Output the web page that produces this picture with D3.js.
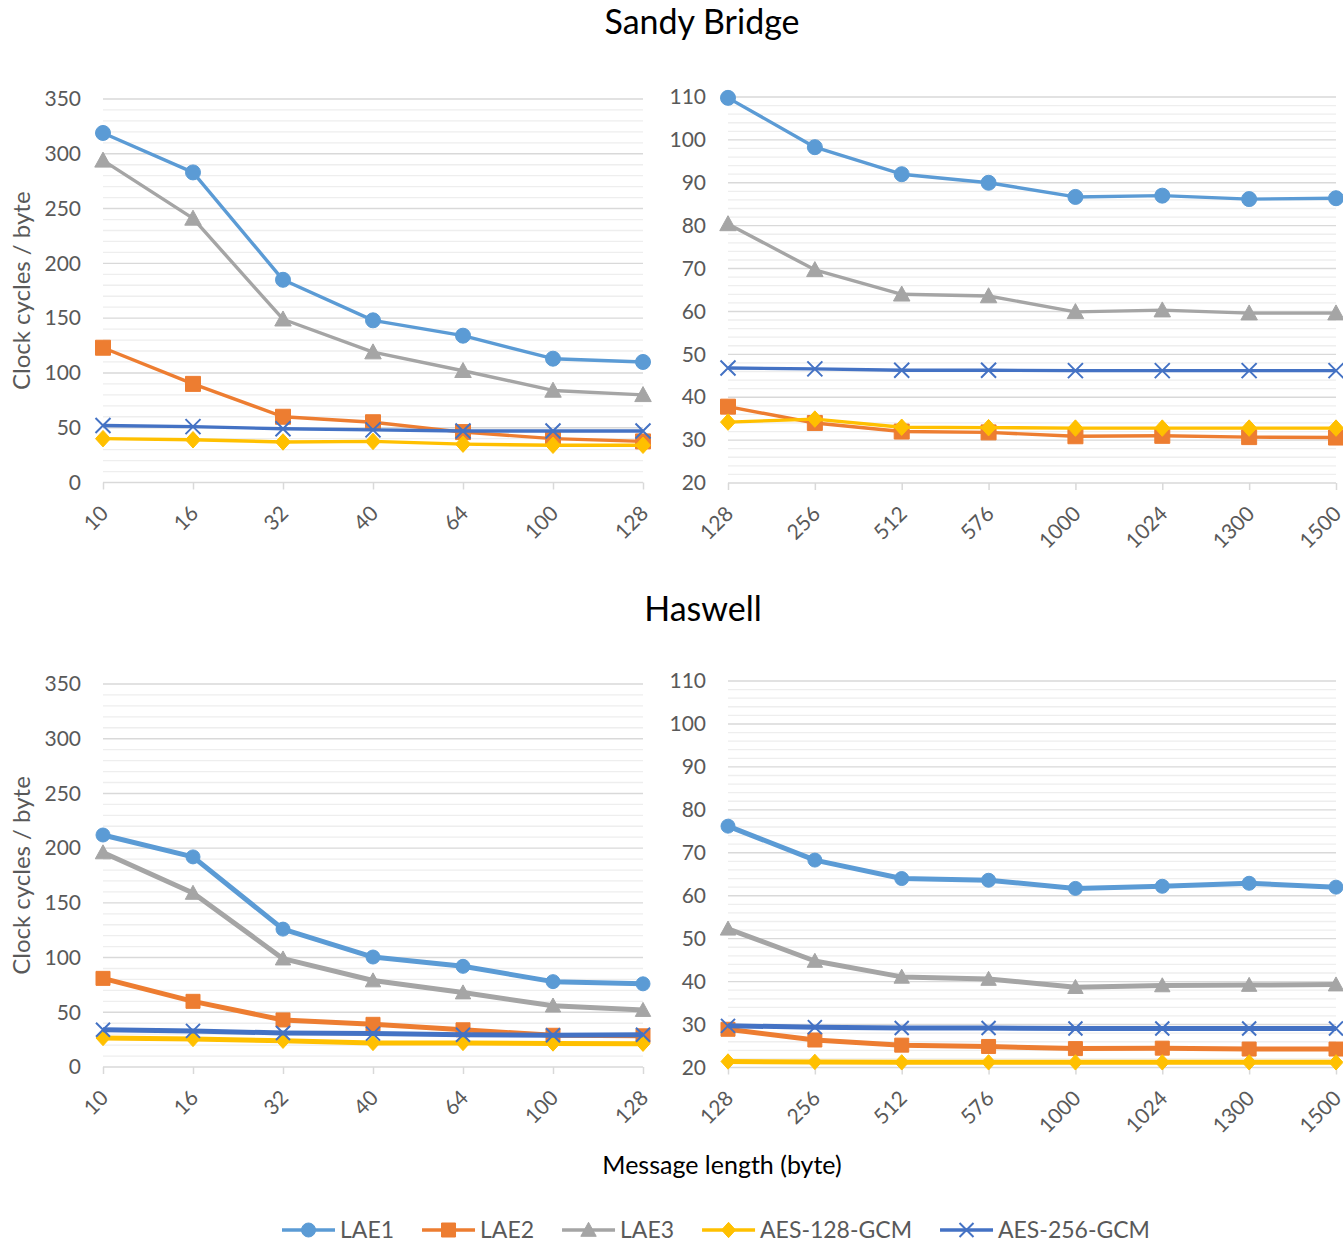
<!DOCTYPE html>
<html><head><meta charset="utf-8">
<script src="https://cdn.jsdelivr.net/npm/d3@7"></script>
<style>
html,body{margin:0;padding:0;background:#fff;}
text{font-family:Lato,"Noto Sans",sans-serif;}
</style></head>
<body>
<svg id="chart" width="1343" height="1241"></svg>
<script>
// ---------- data ----------
const seriesNames = ["LAE1","LAE2","LAE3","AES-128-GCM","AES-256-GCM"];
const seriesColors = ["#5B9BD5","#ED7D31","#A5A5A5","#FFC000","#4472C4"];
const seriesMarkers = ["circle","square","triangle","diamond","x"];

const smallLengths = ["10","16","32","40","64","100","128"];
const largeLengths = ["128","256","512","576","1000","1024","1300","1500"];

const smallTicks = [0,50,100,150,200,250,300,350];
const largeTicks = [20,30,40,50,60,70,80,90,100,110];

// Sandy Bridge, short messages
const sbSmallLAE1 = [319,283,185,148,134,113,110];
const sbSmallLAE2 = [123,90,60,55,46,40,37.5];
const sbSmallLAE3 = [294,241,149,119,102,84,80];
const sbSmallAES128 = [40,39,37,37.5,35,34,34];
const sbSmallAES256 = [52,51,49,48,47,47,47];

// Sandy Bridge, long messages
const sbLargeLAE1 = [109.8,98.3,92,90,86.7,87,86.2,86.4];
const sbLargeLAE2 = [37.8,34,32,31.8,30.9,31,30.7,30.6];
const sbLargeLAE3 = [80.4,69.7,64,63.6,59.9,60.3,59.6,59.6];
const sbLargeAES128 = [34.2,34.9,33,32.9,32.8,32.8,32.8,32.8];
const sbLargeAES256 = [46.8,46.6,46.3,46.3,46.2,46.2,46.2,46.2];

// Haswell, short messages
const hwSmallLAE1 = [212,192,126,100.5,92,78,76];
const hwSmallLAE2 = [81,60,43,39,34,29,28.5];
const hwSmallLAE3 = [196,159,99,79,68,56,52];
const hwSmallAES128 = [26.5,25.6,24,22,22,21.5,21.3];
const hwSmallAES256 = [34,33,31,30.5,29.5,29,29.5];

// Haswell, long messages
const hwLargeLAE1 = [76.2,68.3,64,63.6,61.7,62.2,62.9,62];
const hwLargeLAE2 = [28.9,26.4,25.2,24.9,24.4,24.5,24.3,24.3];
const hwLargeLAE3 = [52.3,44.8,41.1,40.6,38.7,39.1,39.2,39.3];
const hwLargeAES128 = [21.4,21.3,21.2,21.2,21.2,21.2,21.2,21.2];
const hwLargeAES256 = [29.7,29.4,29.2,29.2,29.1,29.1,29.1,29.1];

// ---------- drawing ----------
const svg = d3.select("#chart");
const TICK_COLOR = "#595959";

const panels = [
  {cats: smallLengths, vals: [sbSmallLAE1,sbSmallLAE2,sbSmallLAE3,sbSmallAES128,sbSmallAES256],
   x0:103, x1:643, yTop:99, yBot:482.5, dom:[0,350], ticks:smallTicks, minor:10, lw:3.4, ms:15, yTitle:true},
  {cats: largeLengths, vals: [sbLargeLAE1,sbLargeLAE2,sbLargeLAE3,sbLargeAES128,sbLargeAES256],
   x0:728, x1:1336, yTop:97, yBot:483, dom:[20,110], ticks:largeTicks, minor:2, lw:3.4, ms:15, yTitle:false},
  {cats: smallLengths, vals: [hwSmallLAE1,hwSmallLAE2,hwSmallLAE3,hwSmallAES128,hwSmallAES256],
   x0:103, x1:643, yTop:684, yBot:1067, dom:[0,350], ticks:smallTicks, minor:10, lw:5, ms:14, yTitle:true},
  {cats: largeLengths, vals: [hwLargeLAE1,hwLargeLAE2,hwLargeLAE3,hwLargeAES128,hwLargeAES256],
   x0:728, x1:1336, yTop:681, yBot:1067.5, dom:[20,110], ticks:largeTicks, minor:2, lw:5, ms:14, yTitle:false}
];

function markerPath(type, size){
  const s = size;
  switch(type){
    case "circle": return d3.symbol(d3.symbolCircle, s*s*Math.PI/4)();
    case "square": return `M${-s/2},${-s/2}H${s/2}V${s/2}H${-s/2}Z`;
    case "triangle": return `M0,${-s*0.55}L${s*0.55},${s*0.45}L${-s*0.55},${s*0.45}Z`;
    case "diamond": return `M0,${-s*0.55}L${s*0.5},0L0,${s*0.55}L${-s*0.5},0Z`;
    case "x": return `M${-s/2},${-s/2}L${s/2},${s/2}M${s/2},${-s/2}L${-s/2},${s/2}`;
  }
}
function drawMarker(g, type, color, x, y, size){
  const p = g.append("path").attr("d", markerPath(type,size)).attr("transform",`translate(${x},${y})`);
  if(type==="x") p.attr("fill","none").attr("stroke",color).attr("stroke-width",2);
  else p.attr("fill",color).attr("stroke",color).attr("stroke-width",1);
}

panels.forEach(P=>{
  const g = svg.append("g");
  const x = d3.scalePoint().domain(P.cats).range([P.x0,P.x1]);
  const y = d3.scaleLinear().domain(P.dom).range([P.yBot,P.yTop]);
  // minor gridlines
  const minorVals = d3.range(P.dom[0], P.dom[1]+0.001, P.minor).filter(v=>!P.ticks.includes(v));
  g.selectAll(".minor").data(minorVals).join("line")
    .attr("x1",P.x0).attr("x2",P.x1).attr("y1",d=>y(d)).attr("y2",d=>y(d))
    .attr("stroke","#eeeeee").attr("stroke-width",1.3);
  // major gridlines
  g.selectAll(".major").data(P.ticks.slice(1)).join("line")
    .attr("x1",P.x0).attr("x2",P.x1).attr("y1",d=>y(d)).attr("y2",d=>y(d))
    .attr("stroke","#d9d9d9").attr("stroke-width",1.4);
  // y axis labels
  const ya = g.append("g").attr("transform",`translate(${P.x0-22},0)`)
    .call(d3.axisLeft(y).tickValues(P.ticks).tickSize(0).tickPadding(0));
  ya.select(".domain").remove();
  ya.selectAll("text").attr("fill",TICK_COLOR).style("font-size","21px").style("font-family","Lato");
  // x axis
  const xa = g.append("g").attr("transform",`translate(0,${P.yBot})`)
    .call(d3.axisBottom(x).tickSize(7).tickPadding(0));
  xa.select(".domain").attr("d",`M${P.x0},0H${P.x1}`).attr("stroke","#d9d9d9").attr("stroke-width",1.5);
  xa.selectAll(".tick line").attr("stroke","#d9d9d9").attr("stroke-width",1.5);
  xa.selectAll("text").attr("fill",TICK_COLOR).style("font-size","21px").style("font-family","Lato")
    .attr("text-anchor","end").attr("y",0).attr("dy","0.35em")
    .attr("transform","translate(1,27) rotate(-45)");
  // y title
  if(P.yTitle){
    g.append("text").attr("transform",`translate(30,${(P.yTop+P.yBot)/2}) rotate(-90)`)
      .attr("text-anchor","middle").attr("fill",TICK_COLOR).style("font-size","24px")
      .text("Clock cycles / byte");
  }
  // series
  const line = d3.line().x((d,i)=>x(P.cats[i])).y(d=>y(d));
  P.vals.forEach((vals,si)=>{
    const sg = g.append("g");
    sg.append("path").attr("d",line(vals)).attr("fill","none")
      .attr("stroke",seriesColors[si]).attr("stroke-width",P.lw).attr("stroke-linejoin","round");
    vals.forEach((v,i)=> drawMarker(sg, seriesMarkers[si], seriesColors[si], x(P.cats[i]), y(v), P.ms));
  });
});

// titles
svg.append("text").attr("x",702).attr("y",34).attr("text-anchor","middle").attr("fill","#000")
  .style("font-size","34px").text("Sandy Bridge");
svg.append("text").attr("x",703).attr("y",621).attr("text-anchor","middle").attr("fill","#000")
  .style("font-size","34px").text("Haswell");
svg.append("text").attr("x",722).attr("y",1174).attr("text-anchor","middle").attr("fill","#000")
  .style("font-size","25px").text("Message length (byte)");

// legend
const lg = svg.append("g");
let lx = 282; const ly = 1230;
seriesNames.forEach((name,i)=>{
  lg.append("line").attr("x1",lx).attr("x2",lx+53).attr("y1",ly).attr("y2",ly)
    .attr("stroke",seriesColors[i]).attr("stroke-width",3.4);
  drawMarker(lg, seriesMarkers[i], seriesColors[i], lx+26.5, ly, 14);
  const t = lg.append("text").attr("x",lx+58).attr("y",ly).attr("dy","0.35em")
    .attr("fill",TICK_COLOR).style("font-size","23px").text(name);
  lx += 58 + t.node().getComputedTextLength() + 28;
});
</script>
</body></html>
